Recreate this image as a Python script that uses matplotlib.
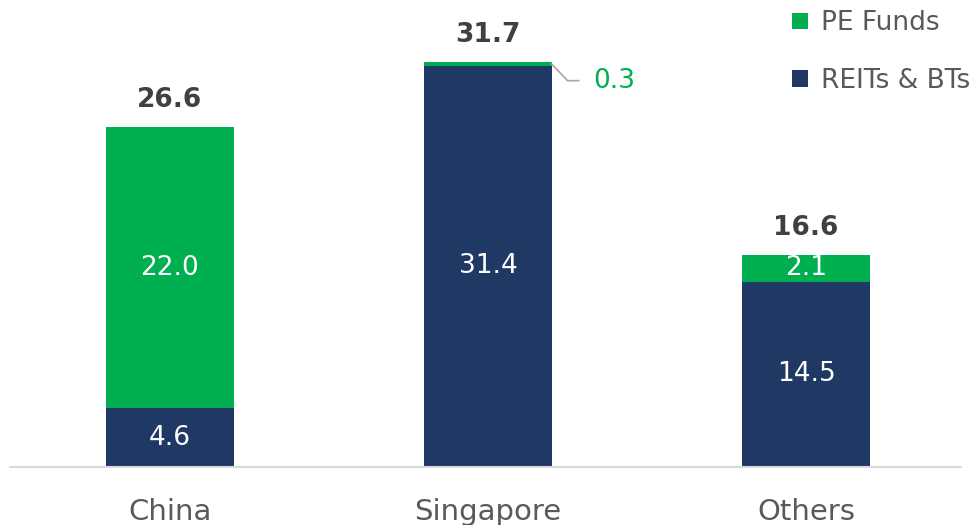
import matplotlib.pyplot as plt
import numpy as np

categories = ["China", "Singapore", "Others"]
reits_bts = [4.6, 31.4, 14.5]
pe_funds = [22.0, 0.3, 2.1]
totals = [26.6, 31.7, 16.6]

navy = "#203864"
green = "#00B050"
grey_text = "#595959"

plt.rcParams['font.family'] = ['DejaVu Sans']

fig = plt.figure(figsize=(9.71, 5.25), dpi=100)
ax = fig.add_axes([10/971, 58/525, 951/971, 447/525])

x = np.arange(len(categories))
w = 0.4
ax.bar(x, reits_bts, w, color=navy, label="REITs & BTs")
ax.bar(x, pe_funds, w, bottom=reits_bts, color=green, label="PE Funds")

ax.set_xlim(-0.503, 2.487)
ax.set_ylim(0, 35)

# segment labels
for i in range(len(categories)):
    ax.text(x[i], reits_bts[i] / 2, f"{reits_bts[i]:.1f}", ha="center", va="center",
            color="white", fontsize=19)
    if pe_funds[i] >= 1:
        ax.text(x[i], reits_bts[i] + pe_funds[i] / 2, f"{pe_funds[i]:.1f}", ha="center",
                va="center", color="white", fontsize=19)
    ax.text(x[i], totals[i] + 1.1, f"{totals[i]:.1f}", ha="center", va="bottom",
            color="#404040", fontsize=19, fontweight="bold")

# small segment call-out for Singapore
top = reits_bts[1] + pe_funds[1]
ax.plot([x[1] + w/2, x[1] + w/2 + 0.05, x[1] + w/2 + 0.085],
        [top - 0.15, top - 1.45, top - 1.45], color="#A6A6A6", lw=1.2)
ax.text(x[1] + w/2 + 0.13, top - 1.45, f"{pe_funds[1]:.1f}", ha="left", va="center",
        color=green, fontsize=19)

for s in ["top", "right", "left"]:
    ax.spines[s].set_visible(False)
ax.spines["bottom"].set_color("#D9D9D9")
ax.spines["bottom"].set_linewidth(1.5)
ax.set_yticks([])
ax.set_xticks(x)
ax.set_xticklabels(categories, fontsize=21, color=grey_text)
ax.tick_params(axis="x", length=0, pad=22)

h, l = ax.get_legend_handles_labels()
leg = ax.legend(h[::-1], l[::-1], loc="upper right", bbox_to_anchor=(1.035, 1.075),
                frameon=False, fontsize=19, handlelength=0.6, handleheight=0.6,
                handletextpad=0.5, labelspacing=1.2, labelcolor=grey_text)

fig.savefig("out.png", dpi=100)
